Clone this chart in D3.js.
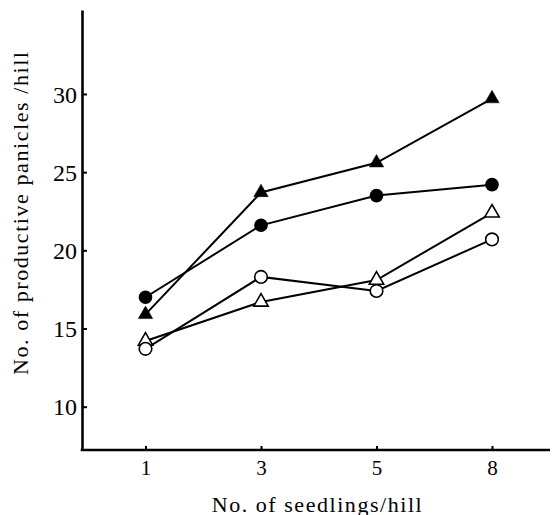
<!DOCTYPE html>
<html><head><meta charset="utf-8">
<script src="https://cdn.jsdelivr.net/npm/d3@7"></script>
<style>body{margin:0;background:#fff}svg{display:block}</style>
</head><body><svg id="c" width="552" height="515"></svg>
<script>
const categories = ["1", "3", "5", "8"];
const filledTriangle = [15.9, 23.7, 25.6, 29.7];
const filledCircle = [17.0, 21.6, 23.5, 24.2];
const openCircle = [13.7, 18.3, 17.4, 20.7];
const openTriangle = [14.2, 16.7, 18.1, 22.4];
const yTicks = [10, 15, 20, 25, 30];
const xTitle = "No. of seedlings/hill";
const yTitle = "No. of productive panicles /hill";

const series = [
  {values: openTriangle, shape: "triangle", filled: false},
  {values: openCircle, shape: "circle", filled: false},
  {values: filledCircle, shape: "circle", filled: true},
  {values: filledTriangle, shape: "triangle", filled: true}
];

const svg = d3.select("#c");
const font = "'Liberation Serif', 'Times New Roman', serif";
const axisX = 82, axisY = 450;

const x = d3.scalePoint().domain(categories).range([145.5, 492]);
const y = d3.scaleLinear().domain([7.23, 35.37]).range([450, 10]);

// Y axis
const gy = svg.append("g").attr("transform", `translate(${axisX},0)`)
  .call(d3.axisLeft(y).tickValues(yTicks).tickSize(-5).tickSizeOuter(0).tickPadding(5).tickFormat(d3.format("d")));
gy.select(".domain").attr("stroke", "#000").attr("stroke-width", 2.6);
gy.selectAll(".tick line").attr("stroke", "#000").attr("stroke-width", 2);
gy.selectAll(".tick text").attr("font-family", font).attr("font-size", 24).attr("fill", "#000").attr("dy", "0.34em");

// X axis
const gx = svg.append("g").attr("transform", `translate(0,${axisY})`)
  .call(d3.axisBottom(x).tickSize(-4).tickSizeOuter(0).tickPadding(10));
gx.select(".domain").remove();
gx.selectAll(".tick line").attr("stroke", "#000").attr("stroke-width", 2);
gx.selectAll(".tick text").attr("font-family", font).attr("font-size", 21).attr("fill", "#000");
svg.append("line").attr("x1", axisX - 1.3).attr("x2", 550).attr("y1", axisY).attr("y2", axisY)
  .attr("stroke", "#000").attr("stroke-width", 2.6);

// Axis titles
svg.append("text").attr("x", 316.7).attr("y", 511.5).attr("text-anchor", "middle")
  .attr("font-family", font).attr("font-size", 22).attr("fill", "#000")
  .attr("textLength", 210).attr("lengthAdjust", "spacing").text(xTitle);
svg.append("text").attr("transform", "translate(28,213.5) rotate(-90)").attr("text-anchor", "middle")
  .attr("font-family", font).attr("font-size", 22).attr("fill", "#000")
  .attr("textLength", 323).attr("lengthAdjust", "spacing").text(yTitle);

// Lines
const line = d3.line().x((d, i) => x(categories[i])).y(d => y(d));
series.forEach(s => {
  svg.append("path").datum(s.values).attr("d", line)
    .attr("fill", "none").attr("stroke", "#000").attr("stroke-width", 2);
});

// Markers
const tri = d3.symbol().type(d3.symbolTriangle).size(90);
series.forEach(s => {
  const g = svg.append("g");
  s.values.forEach((v, i) => {
    const cx = x(categories[i]), cy = y(v);
    if (s.shape === "circle") {
      g.append("circle").attr("cx", cx).attr("cy", cy).attr("r", s.filled ? 6.8 : 6.3)
        .attr("fill", s.filled ? "#000" : "#fff").attr("stroke", "#000").attr("stroke-width", s.filled ? 0 : 1.6);
    } else {
      g.append("path").attr("d", tri).attr("transform", `translate(${cx},${cy})`)
        .attr("fill", s.filled ? "#000" : "#fff").attr("stroke", "#000").attr("stroke-width", s.filled ? 0.5 : 1.6);
    }
  });
});
</script></body></html>
